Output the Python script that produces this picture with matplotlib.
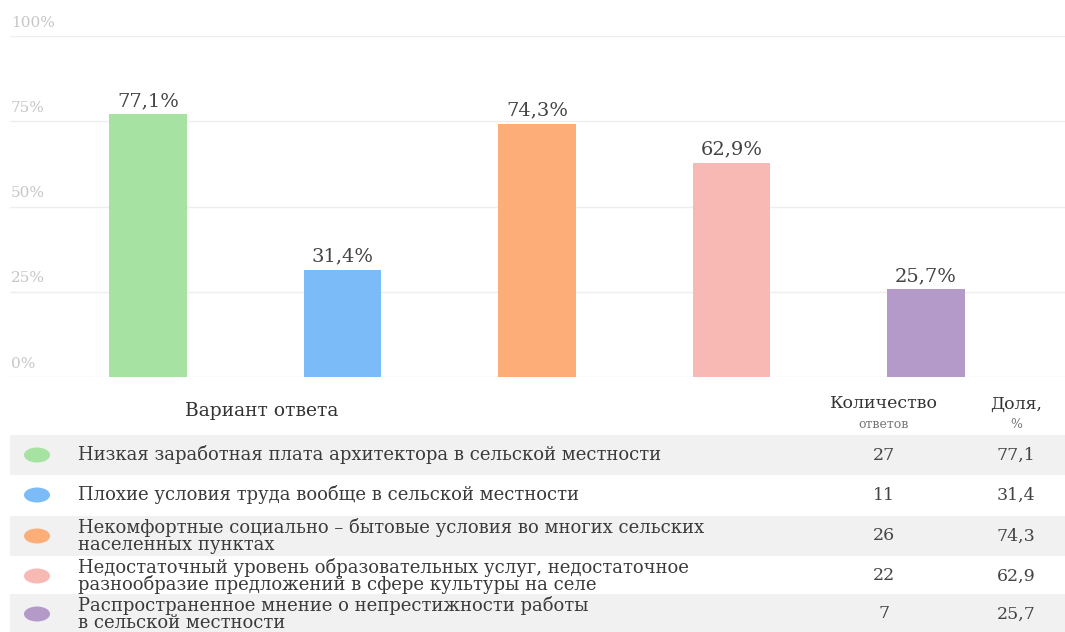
import matplotlib
matplotlib.use("Agg")
import matplotlib.pyplot as plt
from matplotlib.patches import Rectangle, Ellipse
import matplotlib.transforms as mtransforms

plt.rcParams['font.family'] = ['DejaVu Serif', 'DejaVu Sans']

# ---- data ----
categories = [
    "Низкая заработная плата архитектора в сельской местности",
    "Плохие условия труда вообще в сельской местности",
    "Некомфортные социально – бытовые условия во многих сельских\nнаселенных пунктах",
    "Недостаточный уровень образовательных услуг, недостаточное\nразнообразие предложений в сфере культуры на селе",
    "Распространенное мнение о непрестижности работы\nв сельской местности",
]
counts = [27, 11, 26, 22, 7]
shares = [77.1, 31.4, 74.3, 62.9, 25.7]
colors = ["#a6e3a2", "#7bbbf8", "#fdae78", "#f8b9b5", "#b39ac9"]
y_ticks = [0, 25, 50, 75, 100]
y_tick_labels = ["0%", "25%", "50%", "75%", "100%"]
header_option = "Вариант ответа"
header_count = ("Количество", "ответов")
header_share = ("Доля,", "%")

W, H = 1065, 632
fig = plt.figure(figsize=(W / 100, H / 100), dpi=100)
fig.patch.set_facecolor("white")

# ---- table layer (pixel coordinates) ----
tab = fig.add_axes([0, 0, 1, 1], zorder=0)
tab.set_xlim(0, W)
tab.set_ylim(H, 0)
tab.axis("off")

row_y = [455, 495, 536, 576, 614]
row_h = 40
col_count_x, col_share_x = 884, 1016
for i, yc in enumerate(row_y):
    if i % 2 == 0:
        tab.add_patch(Rectangle((10, yc - row_h / 2), W - 10, row_h + (6 if i == 4 else 0),
                                facecolor="#f1f1f1", edgecolor="none"))
    tab.add_patch(Ellipse((37, yc), 26, 15, facecolor=colors[i], edgecolor="none"))
    tab.text(78, yc, categories[i], ha="left", va="center", fontsize=13,
             color="#3a3a3a", linespacing=0.92)
    tab.text(col_count_x, yc, str(counts[i]), ha="center", va="center", fontsize=12.5,
             color="#444444")
    tab.text(col_share_x, yc, f"{shares[i]:.1f}".replace(".", ","), ha="center",
             va="center", fontsize=12.5, color="#444444")

tab.text(262, 411, header_option, ha="center", va="center", fontsize=13.5,
         color="#333333")
tab.text(col_count_x, 404, header_count[0], ha="center", va="center", fontsize=12.5,
         color="#333333")
tab.text(col_count_x, 424, header_count[1], ha="center", va="center", fontsize=9,
         color="#777777")
tab.text(col_share_x, 404, header_share[0], ha="center", va="center", fontsize=12.5,
         color="#333333")
tab.text(col_share_x, 424, header_share[1], ha="center", va="center", fontsize=9,
         color="#777777")

# ---- bar chart ----
left_px, right_px, top_px, bot_px = 10, 1065, 36, 377
ax = fig.add_axes([left_px / W, (H - bot_px) / H, (right_px - left_px) / W,
                   (bot_px - top_px) / H], zorder=1)
ax.patch.set_alpha(0)
unit = 194.5
xmin = -(148 - left_px) / unit
ax.set_xlim(xmin, xmin + (right_px - left_px) / unit)
ax.set_ylim(0, 100)

x = list(range(len(shares)))
ax.bar(x, shares, width=0.40, color=colors, zorder=2)
for xi, v in zip(x, shares):
    ax.annotate(f"{v:.1f}%".replace(".", ","), (xi, v), xytext=(0, 3),
                textcoords="offset points", ha="center", va="bottom",
                fontsize=14, color="#444444")

ax.set_yticks(y_ticks)
ax.yaxis.grid(True, color="#eeeeee", linewidth=1, zorder=0)
ax.set_axisbelow(True)
ax.tick_params(left=False, bottom=False, labelleft=False, labelbottom=False)
for s in ax.spines.values():
    s.set_visible(False)

trans = mtransforms.blended_transform_factory(fig.transFigure, ax.transData)
label_trans = trans + mtransforms.ScaledTranslation(0, 4.5 / 72, fig.dpi_scale_trans)
for t, lab in zip(y_ticks, y_tick_labels):
    ax.text(11 / W, t, lab, transform=label_trans, ha="left", va="bottom",
            fontsize=11, color="#c6c6c6")

fig.savefig("out.png", dpi=100, facecolor="white")
